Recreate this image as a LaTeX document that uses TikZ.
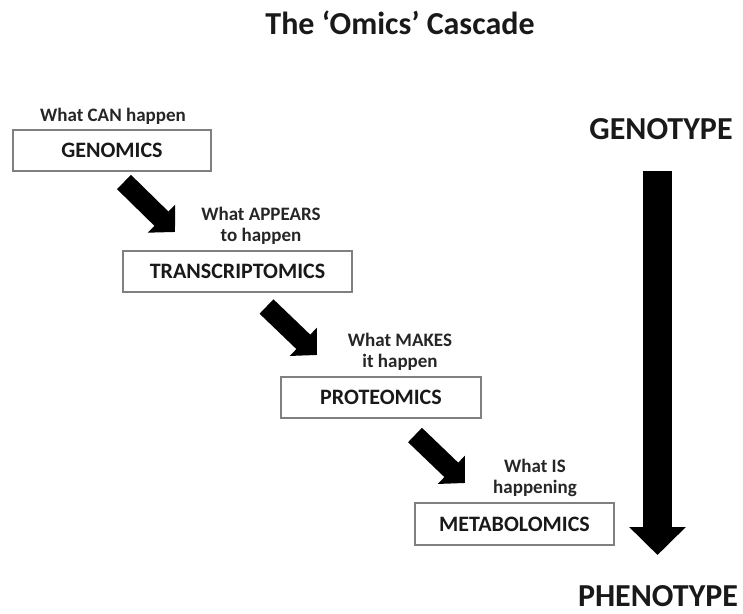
\documentclass[tikz,border=0pt]{standalone}
\usepackage{fontspec}
\setmainfont{Carlito}
\usetikzlibrary{arrows.meta}
\tikzset{
  omicbox/.style={draw=black!50, line width=1.4pt, rectangle, inner sep=0pt, font=\fontsize{22}{25}\selectfont\bfseries, text=black!90},
  lbl/.style={align=center, inner sep=0pt, font=\fontsize{19}{21}\selectfont\bfseries, text=black!85},
  bigtxt/.style={inner sep=0pt, font=\fontsize{32}{36}\selectfont\bfseries, text=black!90},
  fatarrow/.style={line width=20pt, -{Triangle[width=38pt,length=19pt]}},
}
\begin{document}
\begin{tikzpicture}[x=1pt,y=-1pt]
\useasboundingbox (0,0) rectangle (743,613);
\node[bigtxt, anchor=base] (title) at (400,34) {The ‘Omics’ Cascade};
\node[bigtxt, anchor=base] (geno) at (661,139) {GENOTYPE};
\node[bigtxt, anchor=base, text depth=0pt] (pheno) at (658,606) {PHENOTYPE};

\node[omicbox, minimum width=198pt, minimum height=41pt] (gen) at (112,150.5) {GENOMICS};
\node[omicbox, minimum width=229pt, minimum height=41pt] (tra) at (237.5,271.5) {TRANSCRIPTOMICS};
\node[omicbox, minimum width=200pt, minimum height=41pt] (pro) at (381,397.5) {PROTEOMICS};
\node[omicbox, minimum width=199pt, minimum height=42pt] (met) at (514.5,524) {METABOLOMICS};

\node[lbl, anchor=base] (l1) at (113,121) {What CAN happen};
\node[lbl] (l2) at (261,226) {What APPEARS\\to happen};
\node[lbl] (l3) at (400,352) {What MAKES\\it happen};
\node[lbl] (l4) at (535,478) {What IS\\happening};

\coordinate (a1s) at (124,182);
\coordinate (a1e) at (175,232);
\coordinate (a2s) at (266.5,306.5);
\coordinate (a2e) at (317,355);
\coordinate (a3s) at (415,435);
\coordinate (a3e) at (465,483);
\draw[fatarrow] (a1s) -- (a1e);
\draw[fatarrow] (a2s) -- (a2e);
\draw[fatarrow] (a3s) -- (a3e);

\coordinate (bs) at (657.5,171);
\coordinate (be) at (657.5,555);
\draw[line width=29pt, -{Triangle[width=55pt,length=28pt]}] (bs) -- (be);
\end{tikzpicture}
\end{document}
